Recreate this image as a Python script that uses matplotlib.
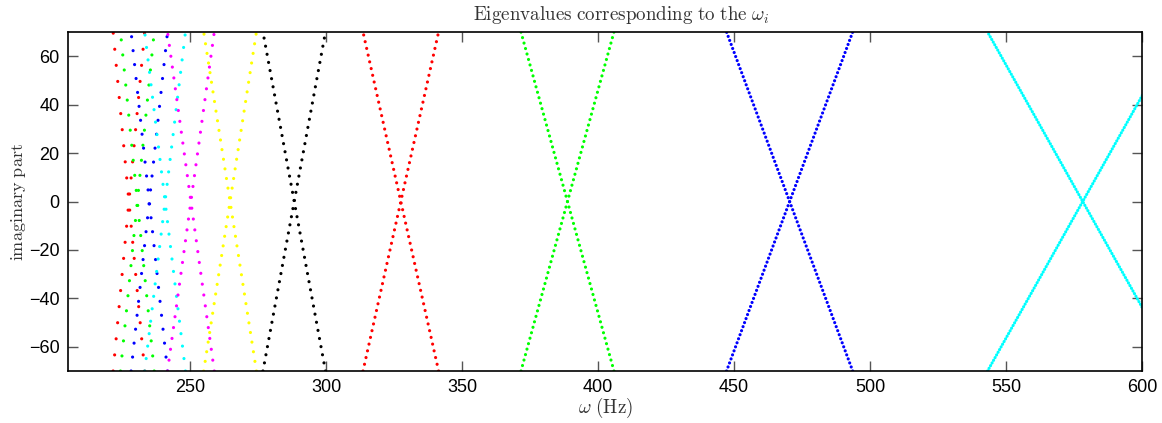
import matplotlib
matplotlib.use("Agg")
import matplotlib.pyplot as plt

# one "X" per omega_i: crossing point on the omega axis and
# how far each branch has moved (in Hz) when the imaginary part reaches +-70
centers = [227.4, 230.5, 234.9, 240.7, 250.2, 264.6, 288.2, 327.4, 388.7, 470.4, 578.2]
half_widths = [5.8, 6.2, 6.7, 7.5, 8.6, 9.7, 11.5, 13.9, 17.1, 23.2, 35.0]
colors = ["#ff0000", "#00ff00", "#0000ff", "#00ffff", "#ff00ff", "#ffff00",
          "#000000", "#ff0000", "#00ff00", "#0000ff", "#00ffff"]
imag_range = [-70, 70]
omega_step = 0.55  # sampling step in omega, sets the dot spacing

x_ticks = [250, 300, 350, 400, 450, 500, 550, 600]
y_ticks = [-60, -40, -20, 0, 20, 40, 60]

plt.rcParams["mathtext.fontset"] = "cm"
plt.rcParams["lines.scale_dashes"] = False

fig = plt.figure(figsize=(11.62, 4.23), dpi=100)
ax = fig.add_axes([68 / 1162, 1 - 371 / 423, (1142 - 68) / 1162, (371 - 32) / 423])

px_per_x = (1142 - 68) / (600 - 205.0)
px_per_y = (371 - 32) / 140.0

for c, hw, col in zip(centers, half_widths, colors):
    # spacing of the samples along the branch, in points
    dx = omega_step * px_per_x
    dy = omega_step * (imag_range[1] / hw) * px_per_y
    gap = (dx ** 2 + dy ** 2) ** 0.5 * 0.72
    for sign in (-1, 1):
        xs = [c + sign * hw, c - sign * hw]
        ax.plot(xs, imag_range, color=col, lw=2.3,
                linestyle=(0, (0.01, gap)), dash_capstyle="round")

ax.set_xlim(205, 600)
ax.set_ylim(-70, 70)
ax.set_xticks(x_ticks)
ax.set_yticks(y_ticks)
ax.tick_params(direction="in", length=7, width=1.0, color="#555555",
               top=True, right=True, labelsize=13, pad=6)
for lab in ax.get_xticklabels() + ax.get_yticklabels():
    lab.set_family("Liberation Sans")
for sp in ax.spines.values():
    sp.set_linewidth(1.2)

text_col = "#333333"
ax.set_title(r"$\mathrm{Eigenvalues\ corresponding\ to\ the\ }\omega_i$",
             fontsize=13.7, pad=9, x=0.515, color=text_col)
ax.set_xlabel(r"$\omega\ \mathrm{(Hz)}$", fontsize=13.7, labelpad=0, color=text_col)
ax.set_ylabel(r"$\mathrm{imaginary\ part}$", fontsize=13, labelpad=1, color=text_col)

fig.savefig("out.png", dpi=100)
